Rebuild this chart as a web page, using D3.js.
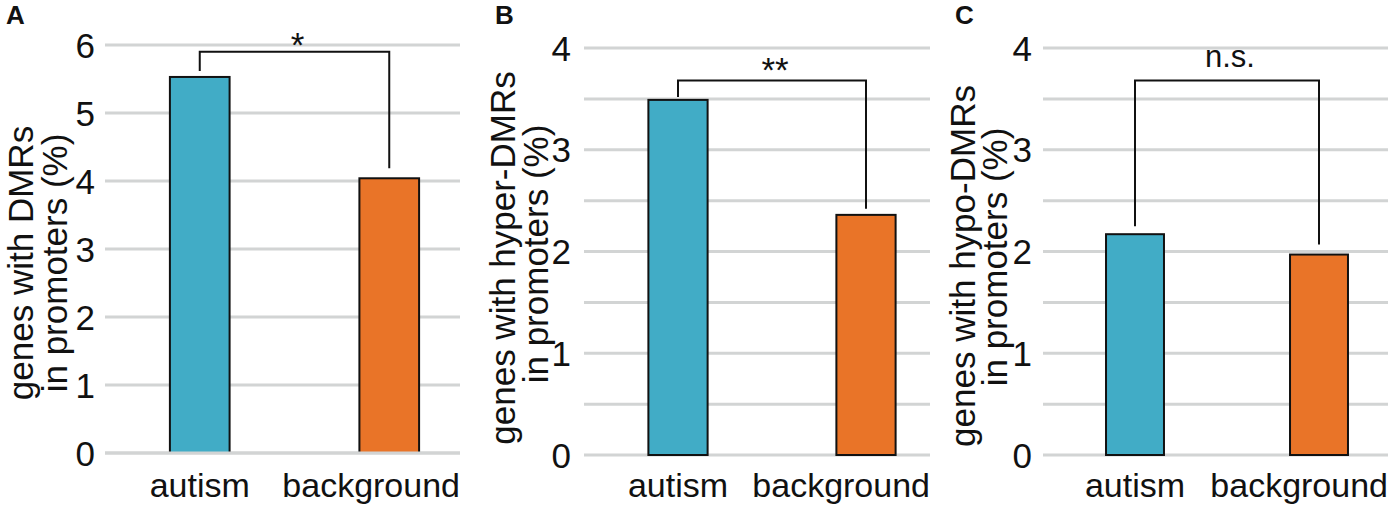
<!DOCTYPE html>
<html>
<head>
<meta charset="utf-8">
<script src="https://cdn.jsdelivr.net/npm/d3@7"></script>
<style>
  body { margin: 0; background: #fff; }
  svg { display: block; font-family: "Liberation Sans", Arial, sans-serif; }
</style>
</head>
<body>
<svg id="chart" width="1396" height="514"></svg>
<script>
// values
var categories = ['autism', 'background'];
var dmrValues = [5.53, 4.04];
var hyperValues = [3.49, 2.36];
var hypoValues = [2.17, 1.97];
var panelLetters = ['A', 'B', 'C'];
var yTitles = [
  ['genes with DMRs', 'in promoters (%)'],
  ['genes with hyper-DMRs', 'in promoters (%)'],
  ['genes with hypo-DMRs', 'in promoters (%)']
];
var yMax = [6, 4, 4];
var gridSteps = [1, 0.5, 0.5];
var sigLabels = ['*', '**', 'n.s.'];
var bracketLevels = [5.9, 3.68, 3.68];

var colors = ['#41acc6', '#e97428'];

// per panel layout (pixels)
var layouts = [
  {left: 105, gridRight: 460, step: 189.5, top: 45, bottom: 453, letterX: 6, tickX: 95,
   titleX: [33, 67], titleY: [263, 263], gaps: [6, 10], sigY: 57, sigSize: 35, zeroOnTop: true},
  {left: 584, gridRight: 930, step: 188, top: 48, bottom: 455, letterX: 495, tickX: 571,
   titleX: [515, 548], titleY: [258, 254], gaps: [3, 6], sigY: 82, sigSize: 35},
  {left: 1043, gridRight: 1388, step: 184, top: 48, bottom: 455, letterX: 955, tickX: 1032,
   titleX: [975, 1007], titleY: [266, 257], gaps: [8, 10], sigY: 67, sigSize: 31}
];
var series = [dmrValues, hyperValues, hypoValues];

var svg = d3.select('#chart');

series.forEach(function (values, p) {
  var L = layouts[p];
  var g = svg.append('g').attr('class', 'panel');

  var y = d3.scaleLinear().domain([0, yMax[p]]).range([L.bottom, L.top]);
  var x = d3.scaleBand()
      .domain(categories)
      .range([L.left, L.left + 2 * L.step])
      .paddingInner(0.685)
      .paddingOuter(0.685 / 2);

  function gridline(sel) {
    sel.attr('x1', L.left)
      .attr('x2', L.gridRight)
      .attr('y1', function (d) { return y(d); })
      .attr('y2', function (d) { return y(d); })
      .style('stroke', '#d2d4d4')
      .style('stroke-width', '3px');
  }

  // gridlines
  var gridVals = d3.range(0, yMax[p] + 1e-9, gridSteps[p]);
  g.selectAll('.grid')
    .data(gridVals)
    .enter().append('line')
    .call(gridline);

  // tick labels (integers only)
  g.selectAll('.tick')
    .data(d3.range(0, yMax[p] + 1))
    .enter().append('text')
    .attr('x', L.tickX)
    .attr('y', function (d) { return y(d) + 12.5; })
    .attr('text-anchor', 'end')
    .style('font-size', '35px')
    .style('fill', '#111')
    .text(function (d) { return d; });

  // bars
  g.selectAll('.bar')
    .data(values)
    .enter().append('rect')
    .attr('x', function (d, i) { return x(categories[i]); })
    .attr('width', x.bandwidth())
    .attr('y', function (d) { return y(d); })
    .attr('height', function (d) { return y(0) - y(d); })
    .style('fill', function (d, i) { return colors[i]; })
    .style('stroke', '#111')
    .style('stroke-width', '2px');

  if (L.zeroOnTop) {
    g.append('line').datum(0).call(gridline);
  }

  // category labels, kept inside the plot's right edge
  g.selectAll('.cat')
    .data(categories)
    .enter().append('text')
    .attr('y', 497)
    .attr('text-anchor', 'middle')
    .style('font-size', '34px')
    .style('fill', '#111')
    .text(function (d) { return d; })
    .attr('x', function (d) {
      var cx = x(d) + x.bandwidth() / 2;
      var half = this.getComputedTextLength() / 2;
      return Math.min(cx, L.gridRight - half);
    });

  // significance bracket
  var c0 = x(categories[0]) + x.bandwidth() / 2;
  var c1 = x(categories[1]) + x.bandwidth() / 2;
  var by = y(bracketLevels[p]);
  g.append('path')
    .attr('d', 'M' + c0 + ',' + (y(values[0]) - L.gaps[0]) +
               'V' + by + 'H' + c1 +
               'V' + (y(values[1]) - L.gaps[1]))
    .style('fill', 'none')
    .style('stroke', '#111')
    .style('stroke-width', '2px');

  g.append('text')
    .attr('x', (c0 + c1) / 2 + 3)
    .attr('y', L.sigY)
    .attr('text-anchor', 'middle')
    .style('font-size', L.sigSize + 'px')
    .style('fill', '#111')
    .text(sigLabels[p]);

  // y title, two lines
  yTitles[p].forEach(function (line, k) {
    g.append('text')
      .attr('transform', 'translate(' + L.titleX[k] + ',' + L.titleY[k] + ') rotate(-90)')
      .attr('text-anchor', 'middle')
      .style('font-size', '35px')
      .style('fill', '#111')
      .text(line);
  });

  // panel letter
  g.append('text')
    .attr('x', L.letterX)
    .attr('y', 24)
    .style('font-size', '26px')
    .style('font-weight', 'bold')
    .style('fill', '#111')
    .text(panelLetters[p]);
});
</script>
</body>
</html>
